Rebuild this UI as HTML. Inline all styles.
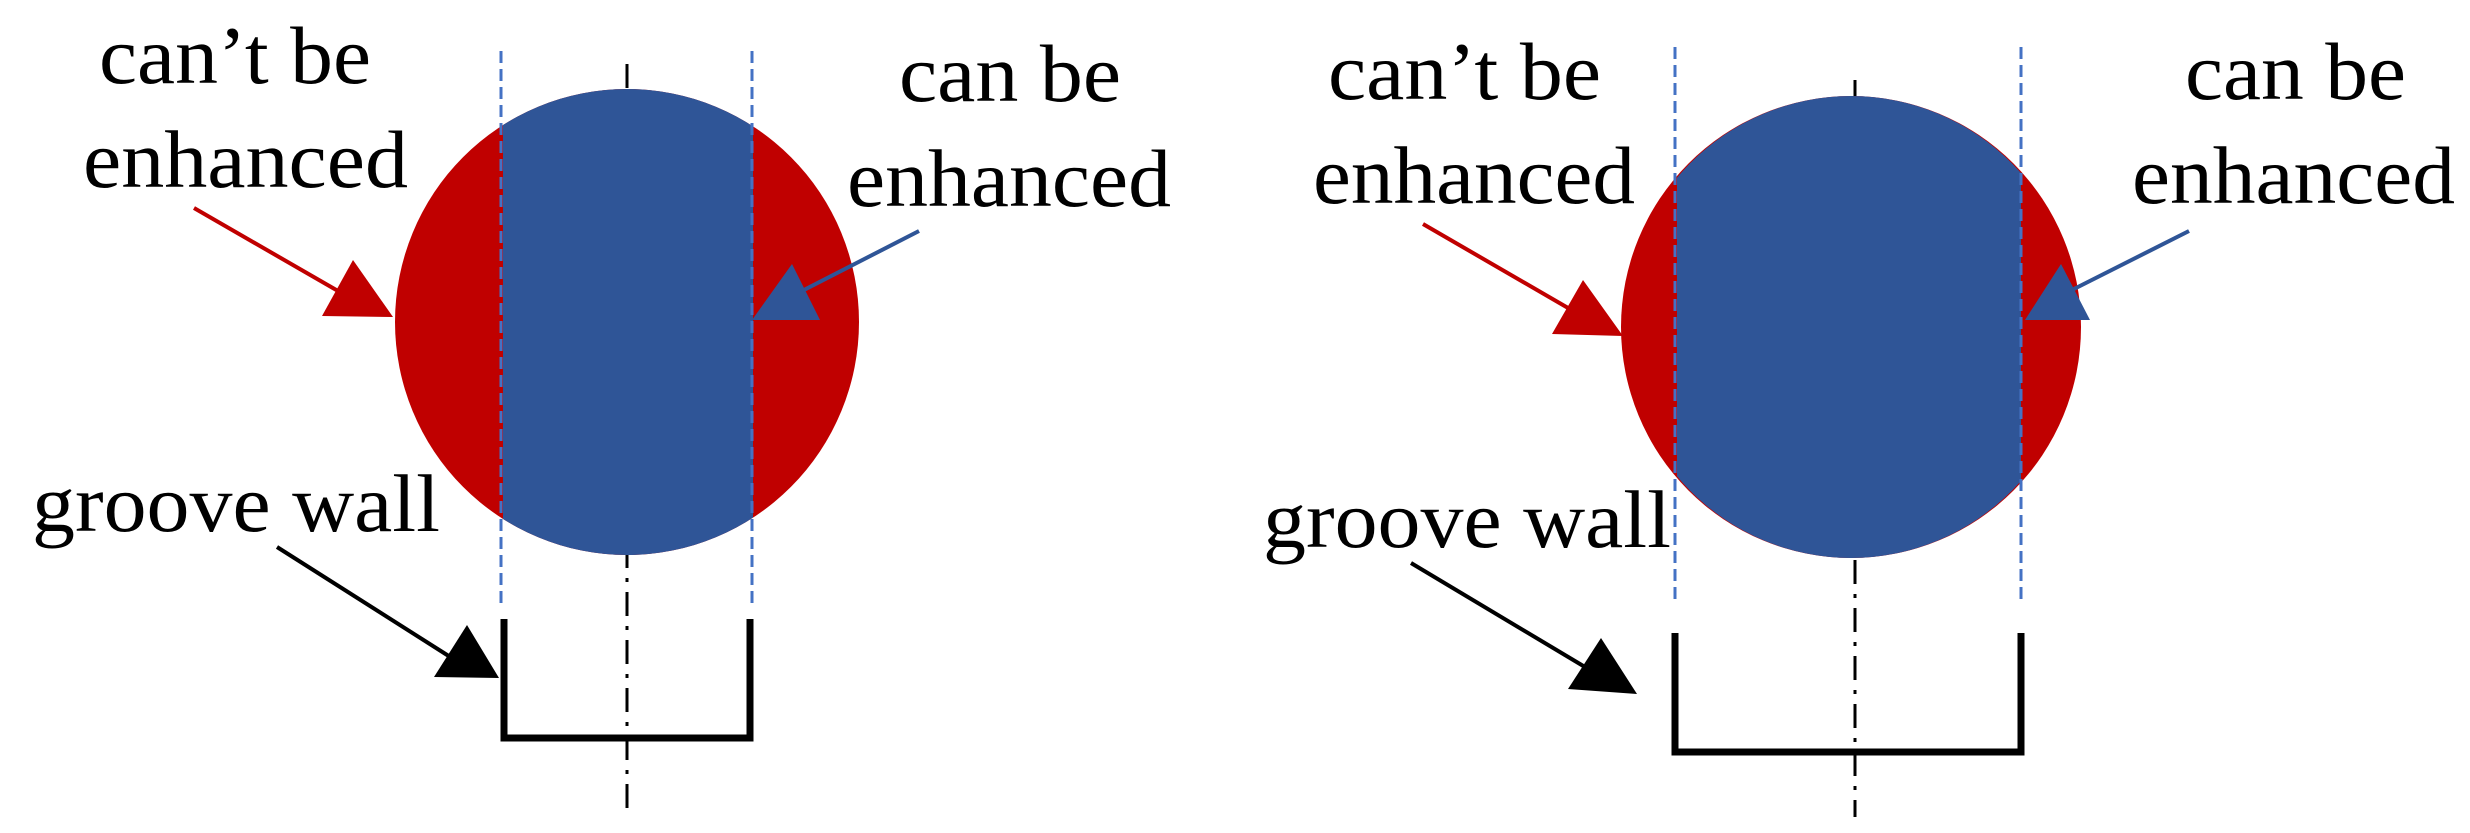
<!DOCTYPE html>
<html><head><meta charset="utf-8"><style>
html,body{margin:0;padding:0;background:#fff;}
svg{display:block;}
text{font-family:"Liberation Serif",serif;font-size:82px;fill:#000;}
</style></head><body>
<svg width="2470" height="833" viewBox="0 0 2470 833" xmlns="http://www.w3.org/2000/svg">
<defs>
<clipPath id="c1"><ellipse cx="627" cy="322" rx="232" ry="233"/></clipPath>
<clipPath id="c2"><ellipse cx="1851" cy="327" rx="228" ry="231"/></clipPath>
</defs>
<!-- LEFT -->
<line x1="627" y1="64" x2="627" y2="817" stroke="#000" stroke-width="3" stroke-dasharray="24,10,4,10"/>
<ellipse cx="627" cy="322" rx="232" ry="233" fill="#c00000"/>
<rect x="503" y="80" width="250" height="490" fill="#2f5597" clip-path="url(#c1)"/>
<line x1="501" y1="51" x2="501" y2="606" stroke="#4472c4" stroke-width="3" stroke-dasharray="12,6"/>
<line x1="752" y1="51" x2="752" y2="606" stroke="#4472c4" stroke-width="3" stroke-dasharray="12,6"/>
<polyline points="504,619 504,738 750,738 750,619" fill="none" stroke="#000" stroke-width="7"/>
<text x="99" y="83" textLength="272" lengthAdjust="spacingAndGlyphs">can’t be</text>
<text x="83" y="187" textLength="325" lengthAdjust="spacingAndGlyphs">enhanced</text>
<text x="899" y="101" textLength="222" lengthAdjust="spacingAndGlyphs">can be</text>
<text x="847" y="206" textLength="324" lengthAdjust="spacingAndGlyphs">enhanced</text>
<text x="32" y="531" textLength="408" lengthAdjust="spacingAndGlyphs">groove wall</text>
<line x1="194" y1="208" x2="345" y2="295" stroke="#c00000" stroke-width="4"/>
<polygon points="322,316 353,260 393,317" fill="#c00000"/>
<line x1="919" y1="231" x2="800" y2="292" stroke="#2f5597" stroke-width="4"/>
<polygon points="752,320 792,264 820,320" fill="#2f5597"/>
<line x1="277" y1="547" x2="455" y2="660" stroke="#000" stroke-width="4"/>
<polygon points="434,677 467,625 499,678" fill="#000"/>
<!-- RIGHT -->
<line x1="1855" y1="80" x2="1855" y2="817" stroke="#000" stroke-width="3" stroke-dasharray="24,10,4,10"/>
<ellipse cx="1851" cy="327" rx="230" ry="231" fill="#c00000"/>
<rect x="1677" y="80" width="344" height="500" fill="#2f5597" clip-path="url(#c2)"/>
<line x1="1675" y1="47" x2="1675" y2="603" stroke="#4472c4" stroke-width="3" stroke-dasharray="12,6"/>
<line x1="2021" y1="47" x2="2021" y2="603" stroke="#4472c4" stroke-width="3" stroke-dasharray="12,6"/>
<polyline points="1675,633 1675,752 2021,752 2021,633" fill="none" stroke="#000" stroke-width="7"/>
<text x="1328" y="99" textLength="273" lengthAdjust="spacingAndGlyphs">can’t be</text>
<text x="1313" y="203" textLength="322" lengthAdjust="spacingAndGlyphs">enhanced</text>
<text x="2185" y="99" textLength="221" lengthAdjust="spacingAndGlyphs">can be</text>
<text x="2132" y="203" textLength="323" lengthAdjust="spacingAndGlyphs">enhanced</text>
<text x="1263" y="547" textLength="408" lengthAdjust="spacingAndGlyphs">groove wall</text>
<line x1="1423" y1="224" x2="1575" y2="312" stroke="#c00000" stroke-width="4"/>
<polygon points="1552,334 1583,280 1623,336" fill="#c00000"/>
<line x1="2189" y1="231" x2="2068" y2="292" stroke="#2f5597" stroke-width="4"/>
<polygon points="2025,320 2061,264 2090,320" fill="#2f5597"/>
<line x1="1411" y1="563" x2="1590" y2="670" stroke="#000" stroke-width="4"/>
<polygon points="1568,689 1601,638 1637,694" fill="#000"/>
</svg>
</body></html>
